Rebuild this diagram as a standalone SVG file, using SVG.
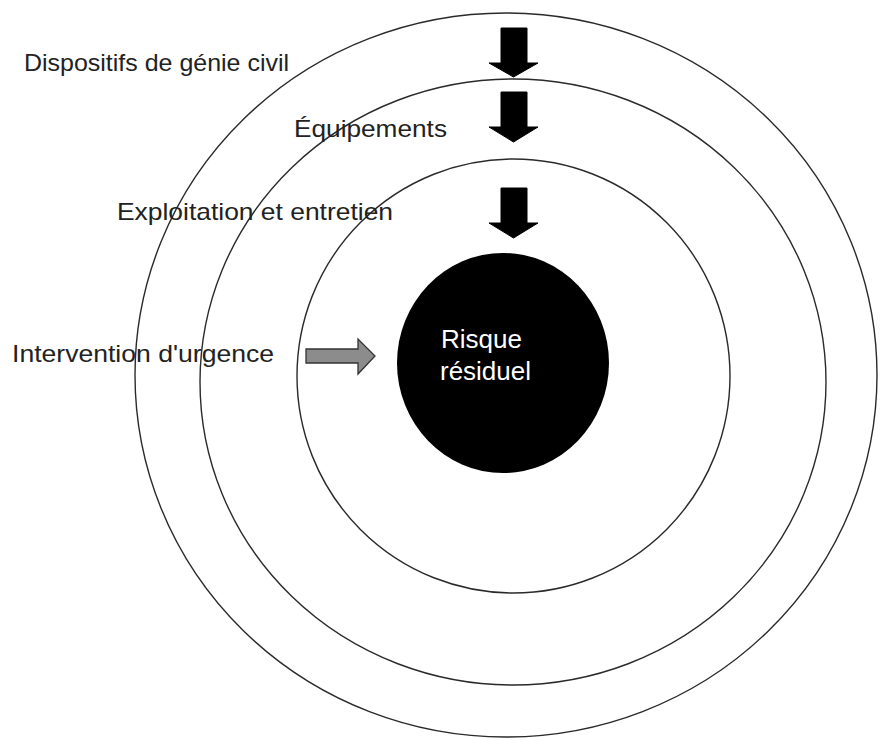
<svg xmlns="http://www.w3.org/2000/svg" width="882" height="740" viewBox="0 0 882 740">
<style>
.ring{fill:none;stroke:#2a2a2a;stroke-width:1.4}
.lbl{font-family:"Liberation Sans",Arial,sans-serif;font-size:24px;fill:#222}
.core{font-family:"Liberation Sans",Arial,sans-serif;font-size:25px;fill:#fff}
.down{fill:#000;stroke:#000;stroke-width:1}
.side{fill:#8c8c8c;stroke:#333;stroke-width:1.3}
</style>
<rect width="882" height="740" fill="#fff"/>
<g id="ring-genie-civil">
<ellipse class="ring" cx="506" cy="375" rx="371" ry="362"/>
<text class="lbl" x="24" y="71" textLength="265" lengthAdjust="spacingAndGlyphs">Dispositifs de génie civil</text>
</g>
<g id="ring-equipements">
<ellipse class="ring" cx="513" cy="382" rx="313" ry="303"/>
<text class="lbl" x="294" y="137" textLength="153" lengthAdjust="spacingAndGlyphs">Équipements</text>
</g>
<g id="ring-exploitation">
<ellipse class="ring" cx="513.5" cy="376" rx="216.5" ry="217"/>
<text class="lbl" x="117" y="220" textLength="276" lengthAdjust="spacingAndGlyphs">Exploitation et entretien</text>
</g>
<g id="label-intervention">
<text class="lbl" x="12" y="362" textLength="262" lengthAdjust="spacingAndGlyphs">Intervention d'urgence</text>
</g>
<g id="risque-residuel">
<ellipse cx="503" cy="363" rx="106" ry="110" fill="#000"/>
<text class="core" x="441" y="348" textLength="81" lengthAdjust="spacingAndGlyphs">Risque</text>
<text class="core" x="440" y="380" textLength="91" lengthAdjust="spacingAndGlyphs">résiduel</text>
</g>
<g id="connectors">
<path class="down" d="M501,28 H527 V63 H538 L513.5,77 L489,63 H501 Z"/>
<path class="down" d="M501,92 H527 V127 H538 L513.5,142 L489,127 H501 Z"/>
<path class="down" d="M501,188 H527 V223 H538 L513.5,238 L489,223 H501 Z"/>
<path class="side" d="M306,349 H358 V339 L375,356 L358,374 V363 H306 Z"/>
</g>
</svg>
